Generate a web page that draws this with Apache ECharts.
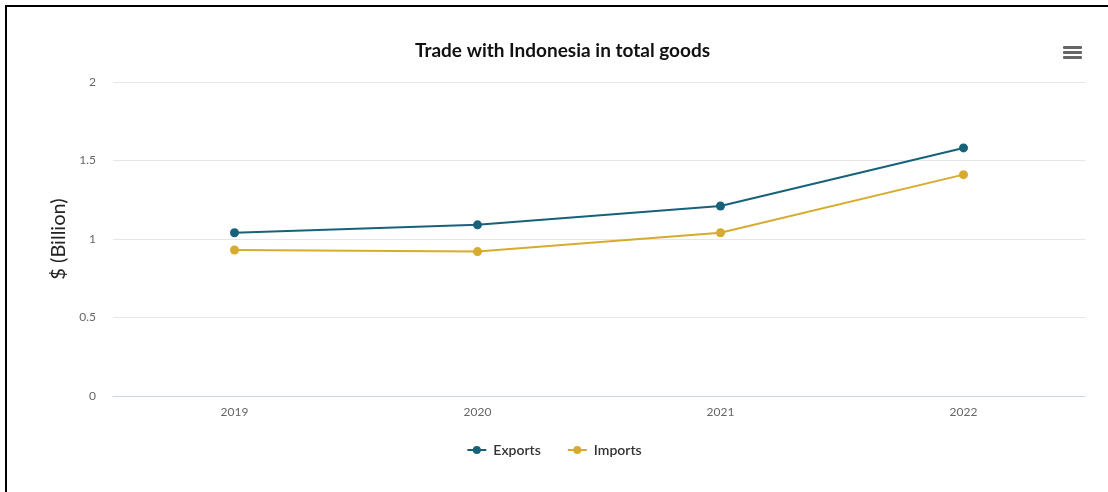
<!DOCTYPE html>
<html><head><meta charset="utf-8">
<script src="https://cdn.jsdelivr.net/npm/echarts@6/dist/echarts.min.js"></script>
<style>
html,body{margin:0;padding:0;background:#fff;}
#frame{position:absolute;left:5px;top:5px;width:1103px;height:487px;border-left:2px solid #000;border-top:2px solid #000;box-sizing:border-box;}
#c{position:absolute;left:0;top:0;width:1108px;height:492px;}
</style></head>
<body>
<div id="frame"></div>
<div id="c"></div>
<script>
const categories = ['2019', '2020', '2021', '2022'];
const exportsValues = [1.04, 1.09, 1.21, 1.58];
const importsValues = [0.93, 0.92, 1.04, 1.41];
const yTicks = { min: 0, max: 2, interval: 0.5 };

const chart = echarts.init(document.getElementById('c'), null, { renderer: 'canvas' });
const font = 'Lato, "Open Sans", sans-serif';
chart.setOption({
  animation: false,
  title: {
    text: 'Trade with Indonesia in total goods',
    left: 410, top: 36,
    textStyle: { fontFamily: font, fontSize: 19, fontWeight: 'bold', color: '#111' }
  },
  graphic: [
    { type: 'rect', left: 1063, top: 46, shape: { width: 19, height: 3, r: 1 }, style: { fill: '#666' } },
    { type: 'rect', left: 1063, top: 51, shape: { width: 19, height: 3, r: 1 }, style: { fill: '#666' } },
    { type: 'rect', left: 1063, top: 56, shape: { width: 19, height: 3, r: 1 }, style: { fill: '#666' } }
  ],
  legend: {
    bottom: 30, left: 'center',
    itemWidth: 19, itemHeight: 10, itemGap: 26,
    textStyle: { fontFamily: font, fontSize: 14, color: '#333', fontWeight: 600, padding: [0, 0, 0, 2] },
    data: ['Exports', 'Imports']
  },
  grid: { left: 113, right: 23, top: 82, bottom: 96 },
  xAxis: {
    type: 'category', data: categories, boundaryGap: true,
    axisLine: { lineStyle: { color: '#ccd6eb', width: 1 } },
    axisTick: { show: false },
    axisLabel: { fontFamily: font, fontSize: 12, color: '#666', margin: 10 }
  },
  yAxis: {
    type: 'value', min: yTicks.min, max: yTicks.max, interval: yTicks.interval,
    name: '$ (Billion)', nameLocation: 'middle', nameGap: 44, nameRotate: 90,
    nameTextStyle: { fontFamily: font, fontSize: 20, color: '#222' },
    axisLine: { show: false }, axisTick: { show: false },
    axisLabel: { fontFamily: font, fontSize: 12, color: '#666', margin: 17 },
    splitLine: { lineStyle: { color: '#e6e6e6', width: 1 } }
  },
  series: [
    { name: 'Exports', type: 'line', data: exportsValues, color: '#17627a',
      symbol: 'circle', symbolSize: 9, lineStyle: { width: 2 } },
    { name: 'Imports', type: 'line', data: importsValues, color: '#d6ab2e',
      symbol: 'circle', symbolSize: 9, lineStyle: { width: 2 } }
  ]
});
</script>
</body></html>
